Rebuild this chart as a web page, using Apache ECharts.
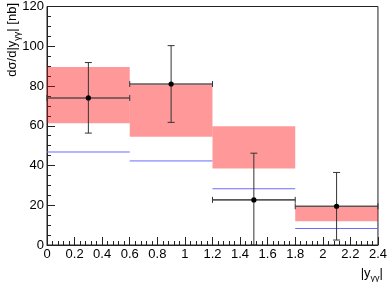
<!DOCTYPE html>
<html>
<head>
<meta charset="utf-8">
<script src="https://cdn.jsdelivr.net/npm/echarts@6/dist/echarts.min.js"></script>
<style>html,body{margin:0;padding:0;background:#fff;}#c{width:390px;height:282px;}</style>
</head>
<body>
<div id="c"></div>
<script>
// Bin edges and centres
const binLo = [0, 0.6, 1.2, 1.8];
const binHi = [0.6, 1.2, 1.8, 2.4];
const binCenter = [0.3, 0.9, 1.5, 2.1];
// Data points with errors
const dataVal = [74, 81, 22.7, 19.5];
const dataErrLo = [56.3, 61.7, 0, 2.5];
const dataErrHi = [91.8, 100.3, 46.2, 36.5];
// Red prediction band
const bandLo = [61.3, 54.5, 38.5, 12];
const bandHi = [89.6, 80.8, 59.8, 19.2];
// Blue prediction line
const blueVal = [46.8, 42.3, 28.3, 8.3];
// Tick setup
const xTickStep = 0.2;
const yTickStep = 20;

const FONT = 'Liberation Sans';
const chart = echarts.init(document.getElementById('c'), null, {renderer: 'canvas'});

const bandData = binLo.map((l, i) => [l, binHi[i], bandLo[i], bandHi[i]]);
const blueData = binLo.map((l, i) => [l, binHi[i], blueVal[i]]);
const pointData = binCenter.map((c, i) => [c, dataVal[i], binLo[i], binHi[i], dataErrLo[i], dataErrHi[i]]);

chart.setOption({
  animation: false,
  grid: {left: 47, right: 7, top: 5, bottom: 37, show: true, borderColor: '#222', borderWidth: 1, backgroundColor: 'transparent'},
  xAxis: {
    type: 'value', min: 0, max: 2.4, interval: xTickStep,
    axisLine: {show: true, lineStyle: {color: '#222', width: 1}},
    axisTick: {show: true, inside: true, length: 8, lineStyle: {color: '#222'}},
    minorTick: {show: true, splitNumber: 5, length: 4, lineStyle: {color: '#222'}},
    splitLine: {show: false},
    axisLabel: {color: '#000', fontFamily: FONT, fontSize: 13, margin: 3,
      formatter: v => String(Math.round(v * 10) / 10)}
  },
  yAxis: {
    type: 'value', min: 0, max: 120, interval: yTickStep,
    axisLine: {show: true, lineStyle: {color: '#222', width: 1}},
    axisTick: {show: true, inside: true, length: 8, lineStyle: {color: '#222'}},
    minorTick: {show: true, splitNumber: 4, length: 4, lineStyle: {color: '#222'}},
    splitLine: {show: false},
    axisLabel: {color: '#000', fontFamily: FONT, fontSize: 13, margin: 3}
  },
  graphic: [
    {type: 'text', x: 12, y: 3, rotation: Math.PI / 2,
      style: {text: '{a|dσ/d|y}{s|γγ}{a|| [nb]}', align: 'right', verticalAlign: 'middle',
        rich: {a: {fontFamily: FONT, fontSize: 13, lineHeight: 20, fill: '#000'},
               s: {fontFamily: FONT, fontSize: 9, lineHeight: 10, verticalAlign: 'bottom', fill: '#000'}}}},
    {type: 'text', x: 383, y: 273,
      style: {text: '{a||y}{s|γγ}{a||}', align: 'right', verticalAlign: 'middle',
        rich: {a: {fontFamily: FONT, fontSize: 13, lineHeight: 20, fill: '#000'},
               s: {fontFamily: FONT, fontSize: 9, lineHeight: 10, verticalAlign: 'bottom', fill: '#000'}}}}
  ],
  series: [
    {
      type: 'custom', data: bandData, clip: true, z: 1,
      renderItem: (params, api) => {
        const p1 = api.coord([api.value(0), api.value(3)]);
        const p2 = api.coord([api.value(1), api.value(2)]);
        return {type: 'rect', shape: {x: p1[0], y: p1[1], width: p2[0] - p1[0], height: p2[1] - p1[1]},
          style: {fill: 'rgba(255,0,0,0.4)'}};
      }
    },
    {
      type: 'custom', data: blueData, clip: true, z: 2,
      renderItem: (params, api) => {
        const p1 = api.coord([api.value(0), api.value(2)]);
        const p2 = api.coord([api.value(1), api.value(2)]);
        return {type: 'line', shape: {x1: p1[0], y1: p1[1], x2: p2[0], y2: p2[1]},
          style: {stroke: '#6b6bff', lineWidth: 1}};
      }
    },
    {
      type: 'custom', data: pointData, clip: false, z: 3,
      renderItem: (params, api) => {
        const c = api.coord([api.value(0), api.value(1)]);
        const xl = api.coord([api.value(2), api.value(1)]);
        const xh = api.coord([api.value(3), api.value(1)]);
        const yl = api.coord([api.value(0), api.value(4)]);
        const yh = api.coord([api.value(0), api.value(5)]);
        const cap = 3.5, hcap = 3;
        const st = {stroke: '#333', lineWidth: 1};
        const hst = {stroke: 'rgba(60,60,60,0.85)', lineWidth: 1.6};
        return {type: 'group', children: [
          {type: 'line', shape: {x1: xl[0], y1: c[1], x2: xh[0], y2: c[1]}, style: hst},
          {type: 'line', shape: {x1: xl[0], y1: c[1] - hcap, x2: xl[0], y2: c[1] + hcap}, style: st},
          {type: 'line', shape: {x1: xh[0], y1: c[1] - hcap, x2: xh[0], y2: c[1] + hcap}, style: st},
          {type: 'line', shape: {x1: c[0], y1: yl[1], x2: c[0], y2: yh[1]}, style: st},
          {type: 'line', shape: {x1: c[0] - cap, y1: yh[1], x2: c[0] + cap, y2: yh[1]}, style: st},
          {type: 'line', shape: {x1: c[0] - cap, y1: yl[1], x2: c[0] + cap, y2: yl[1]}, style: st},
          {type: 'circle', shape: {cx: c[0], cy: c[1], r: 2.6}, style: {fill: '#000'}}
        ]};
      }
    }
  ]
});
</script>
</body>
</html>
